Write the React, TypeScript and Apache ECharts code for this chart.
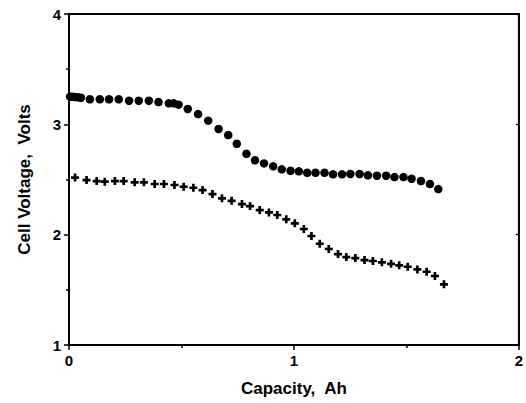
import React, { useEffect, useRef } from "react";
import * as echarts from "echarts";

const circleX = [0.005, 0.015, 0.025, 0.04, 0.053, 0.093, 0.137, 0.178, 0.221, 0.267, 0.31, 0.355, 0.398, 0.444, 0.466, 0.487, 0.528, 0.574, 0.619, 0.665, 0.708, 0.746, 0.789, 0.827, 0.867, 0.908, 0.946, 0.985, 1.022, 1.059, 1.096, 1.136, 1.174, 1.214, 1.251, 1.292, 1.329, 1.369, 1.41, 1.447, 1.487, 1.523, 1.565, 1.605, 1.642];
const circleY = [3.25, 3.25, 3.248, 3.245, 3.241, 3.227, 3.227, 3.227, 3.227, 3.214, 3.214, 3.214, 3.202, 3.19, 3.19, 3.178, 3.139, 3.093, 3.033, 2.958, 2.903, 2.824, 2.733, 2.674, 2.646, 2.619, 2.592, 2.579, 2.574, 2.561, 2.561, 2.561, 2.547, 2.547, 2.55, 2.55, 2.538, 2.534, 2.534, 2.522, 2.522, 2.507, 2.486, 2.459, 2.413];

const crossX = [0.027, 0.078, 0.123, 0.159, 0.204, 0.243, 0.292, 0.333, 0.381, 0.422, 0.469, 0.51, 0.553, 0.594, 0.638, 0.68, 0.723, 0.769, 0.805, 0.848, 0.889, 0.926, 0.966, 1.004, 1.044, 1.078, 1.115, 1.155, 1.196, 1.233, 1.273, 1.314, 1.351, 1.391, 1.432, 1.468, 1.506, 1.549, 1.59, 1.627, 1.667];
const crossY = [2.517, 2.495, 2.486, 2.48, 2.486, 2.486, 2.474, 2.474, 2.459, 2.459, 2.45, 2.434, 2.425, 2.404, 2.368, 2.329, 2.307, 2.277, 2.259, 2.223, 2.202, 2.178, 2.139, 2.103, 2.051, 1.988, 1.918, 1.87, 1.824, 1.797, 1.788, 1.77, 1.761, 1.749, 1.736, 1.722, 1.709, 1.685, 1.664, 1.625, 1.55];

const xTitle = "Capacity,  Ah";
const yTitle = "Cell Voltage,  Volts";

const PLUS = "path://M3,0 H6 V3 H9 V6 H6 V9 H3 V6 H0 V3 H3 Z";
const FONT = "Liberation Sans, Arial, sans-serif";

export default function App() {
  const ref = useRef<HTMLDivElement>(null);
  useEffect(() => {
    if (!ref.current) return;
    const chart = echarts.init(ref.current, undefined, { renderer: "svg" });
    const axisLine = { show: true, lineStyle: { color: "#000", width: 1.8 } };
    chart.setOption({
      animation: false,
      backgroundColor: "#fff",
      grid: { left: 69, right: 5, top: 14, bottom: 58, show: true, borderColor: "#000", borderWidth: 1.8 },
      xAxis: [
        {
          type: "value", min: 0, max: 2, interval: 1, position: "bottom",
          axisLine,
          axisTick: { show: true, inside: false, length: 5, lineStyle: { color: "#000", width: 1.5 } },
          minorTick: { show: true, splitNumber: 2, length: 3, lineStyle: { color: "#000", width: 1.5 } },
          splitLine: { show: false },
          axisLabel: { color: "#000", fontSize: 15, fontWeight: "bold", fontFamily: FONT, margin: 8 },
          name: xTitle, nameLocation: "middle", nameGap: 35,
          nameTextStyle: { color: "#000", fontSize: 17, fontWeight: "bold", fontFamily: FONT },
        },
      ],
      yAxis: [
        {
          type: "value", min: 1, max: 4, interval: 1, position: "left",
          axisLine,
          axisTick: { show: true, inside: false, length: 5, lineStyle: { color: "#000", width: 1.5 } },
          minorTick: { show: true, splitNumber: 2, length: 3, lineStyle: { color: "#000", width: 1.5 } },
          splitLine: { show: false },
          axisLabel: { color: "#000", fontSize: 15, fontWeight: "bold", fontFamily: FONT, margin: 8 },
          name: yTitle, nameLocation: "middle", nameGap: 36, nameRotate: 90,
          nameTextStyle: { color: "#000", fontSize: 17, fontWeight: "bold", fontFamily: FONT },
        },
        {
          type: "value", min: 1, max: 4, interval: 1, position: "right",
          axisLine,
          axisTick: { show: true, inside: true, length: 3, lineStyle: { color: "#000", width: 1.2 } },
          axisLabel: { show: false },
          splitLine: { show: false },
        },
      ],
      series: [
        {
          type: "scatter",
          data: circleX.map((x, i) => [x, circleY[i]]),
          symbol: "circle", symbolSize: 8.5,
          itemStyle: { color: "#000", opacity: 1 },
        },
        {
          type: "scatter",
          data: crossX.map((x, i) => [x, crossY[i]]),
          symbol: PLUS, symbolSize: 8,
          itemStyle: { color: "#000", opacity: 1 },
        },
      ],
    });
    return () => chart.dispose();
  }, []);
  return <div ref={ref} style={{ width: 526, height: 403, position: "absolute", left: 0, top: 0 }} />;
}
